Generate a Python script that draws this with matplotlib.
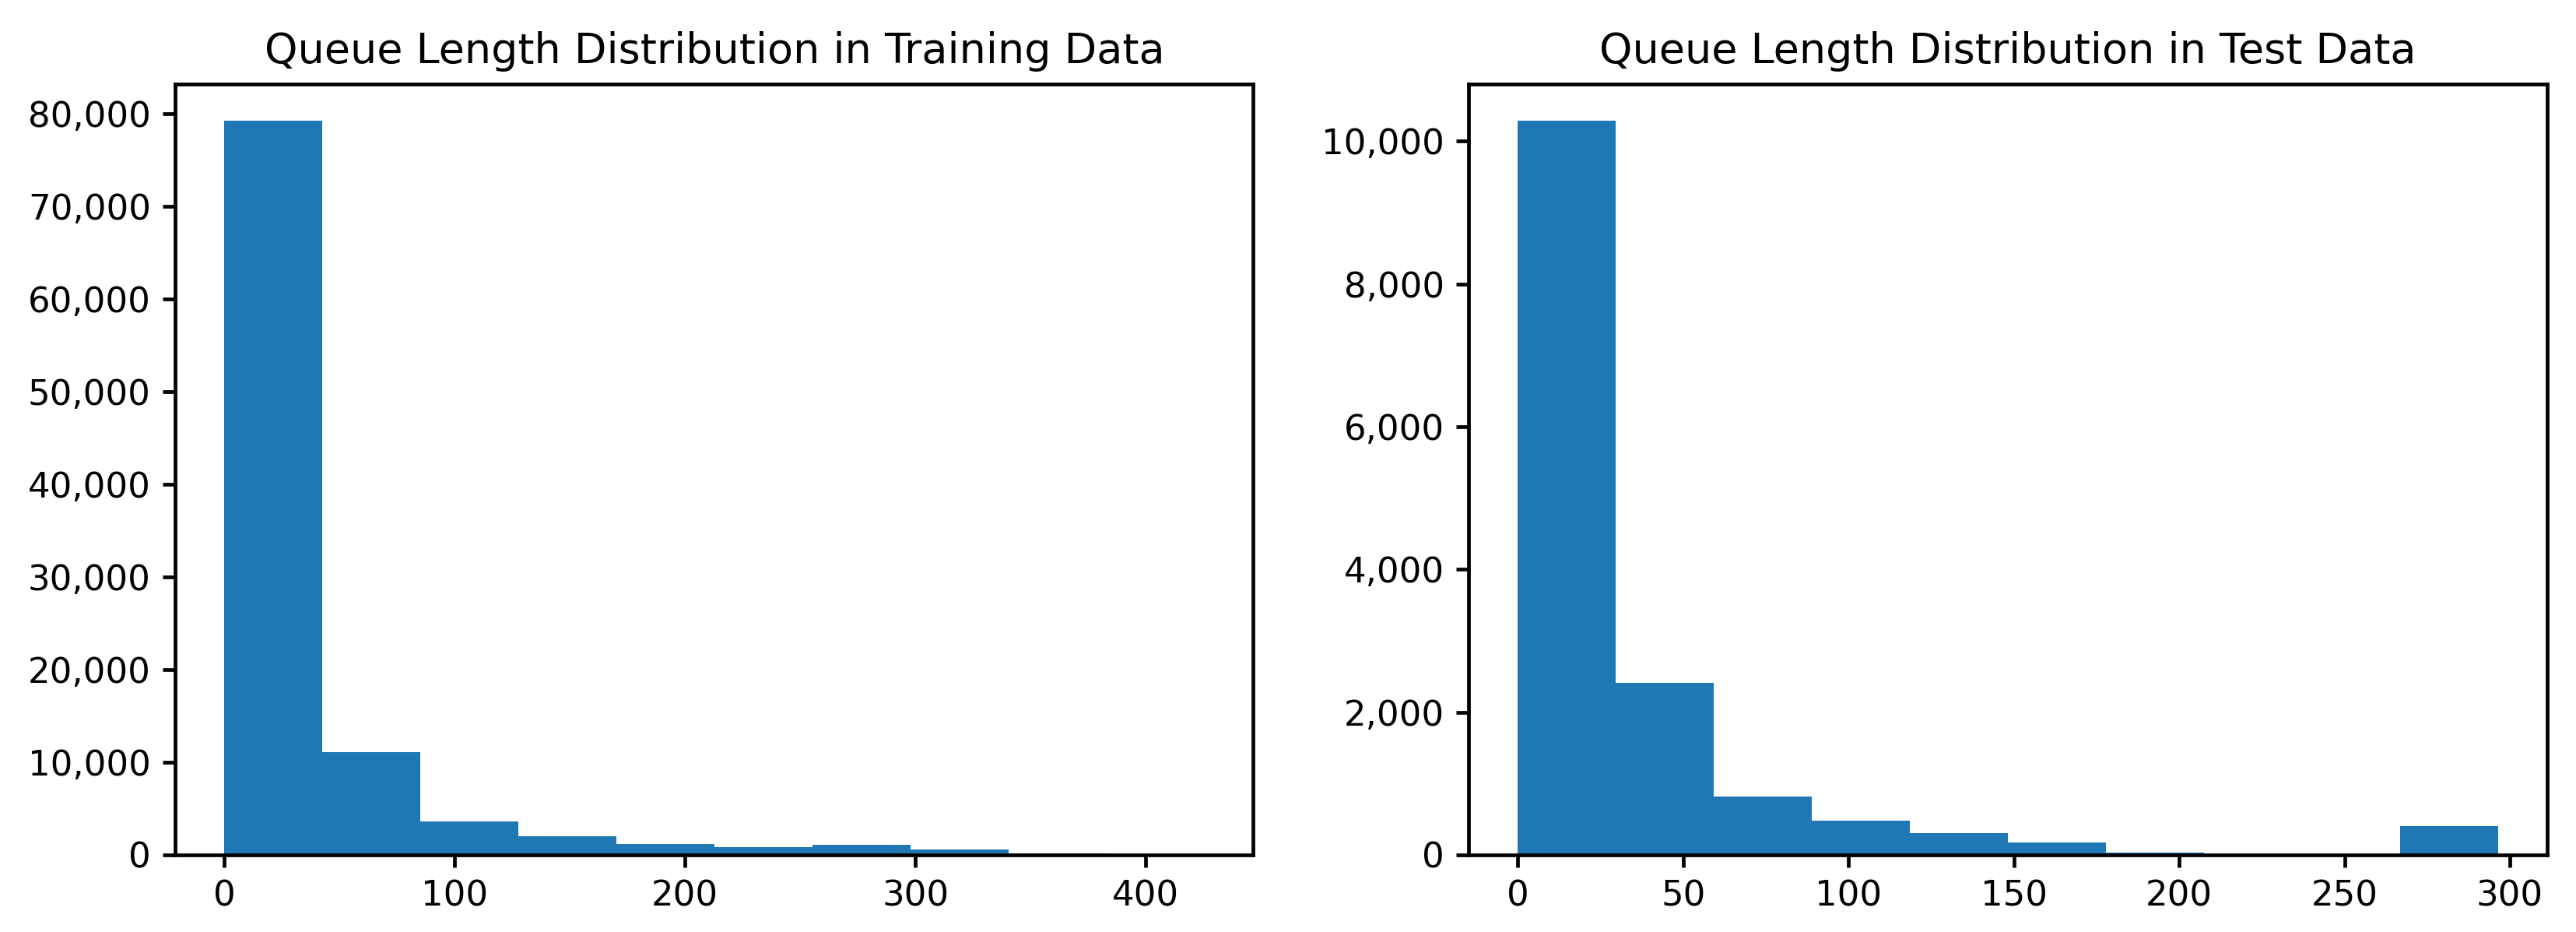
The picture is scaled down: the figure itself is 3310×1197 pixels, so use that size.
import numpy as np
import matplotlib
matplotlib.use("Agg")
from matplotlib import pyplot as plt
from matplotlib.ticker import StrMethodFormatter

# histogram counts (10 bins each)
train_counts = [79240, 11120, 3640, 2040, 1150, 810, 1065, 560, 140, 10]
train_max = 425.4
test_counts = [10284, 2414, 822, 483, 302, 171, 36, 3, 15, 400]
test_max = 296.4

train_xticks = [0, 100, 200, 300, 400]
test_xticks = [0, 50, 100, 150, 200, 250, 300]

# slightly heavier frame, as in the reference
plt.rcParams['axes.linewidth'] = 1.05
plt.rcParams['xtick.major.width'] = 1.05
plt.rcParams['ytick.major.width'] = 1.05

dpi = 324
fig = plt.figure(figsize=(3310 / dpi, 1197 / dpi), dpi=dpi)

ax1 = fig.add_axes([0.06807, 0.08271, 0.41843, 0.82681])
ax2 = fig.add_axes([0.57018, 0.08271, 0.41855, 0.82681])

panels = [
    (ax1, train_counts, train_max, train_xticks, "Queue Length Distribution in Training Data"),
    (ax2, test_counts, test_max, test_xticks, "Queue Length Distribution in Test Data"),
]

for ax, counts, vmax, xticks, title in panels:
    edges = np.linspace(0, vmax, len(counts) + 1)
    ax.hist(edges[:-1], bins=edges, weights=counts, color="#1f77b4")
    ax.set_title(title, fontsize=12)
    ax.set_xticks(xticks)
    ax.yaxis.set_major_formatter(StrMethodFormatter("{x:,.0f}"))
    ax.tick_params(labelsize=10)

fig.savefig("out.png", dpi=dpi)
